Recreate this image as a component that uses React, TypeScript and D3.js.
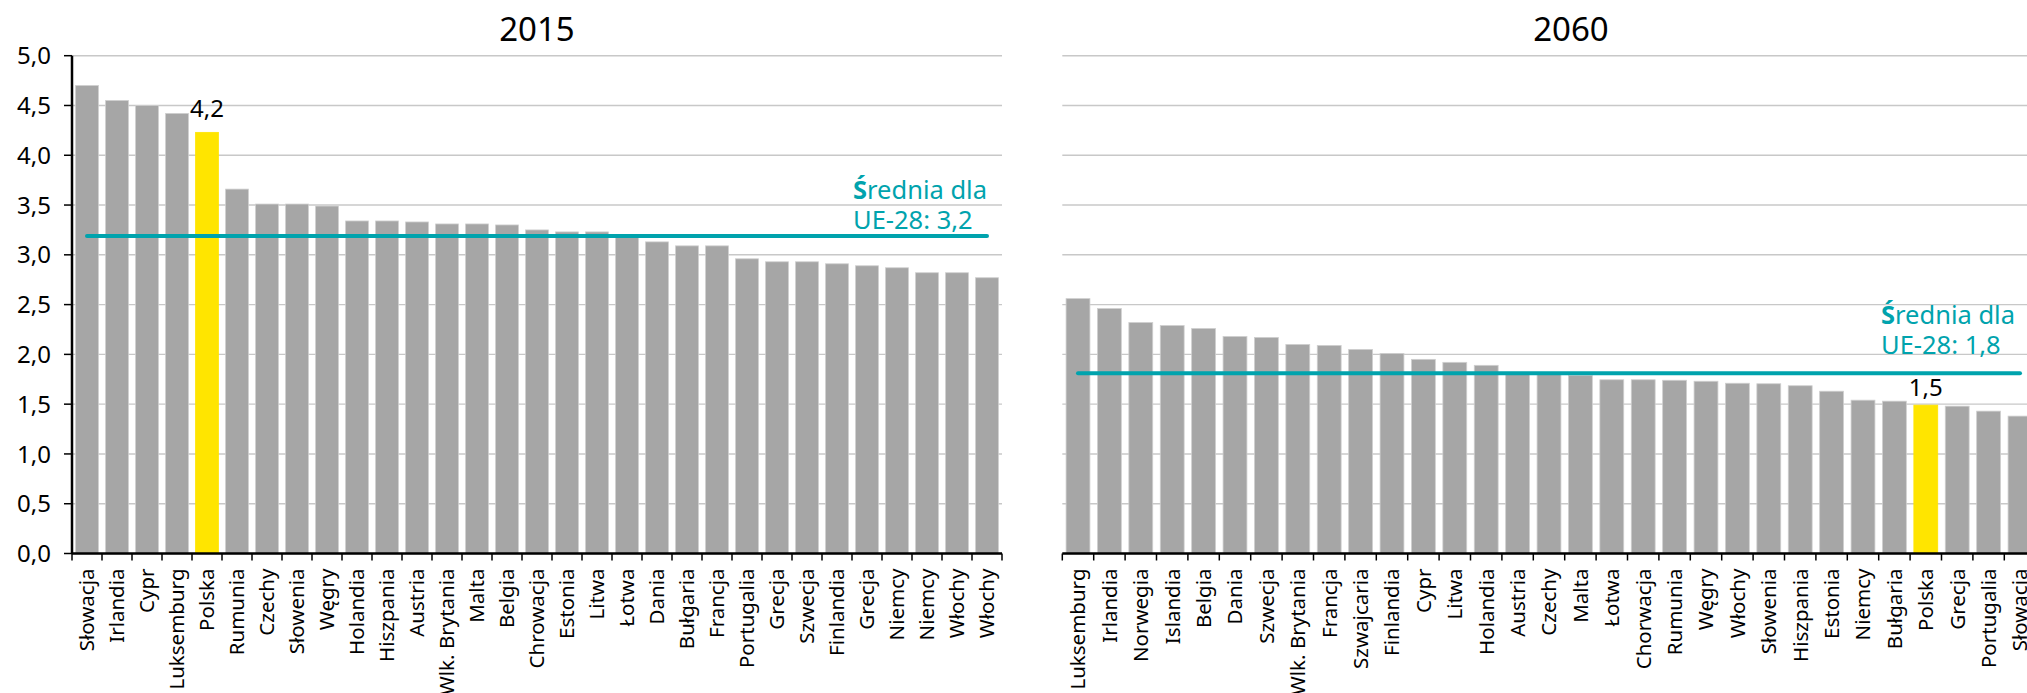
import React from "react";
import * as d3 from "d3";

// ---------- DATA ----------
const cats2015 = [
  "Słowacja", "Irlandia", "Cypr", "Luksemburg", "Polska", "Rumunia", "Czechy",
  "Słowenia", "Węgry", "Holandia", "Hiszpania", "Austria", "Wlk. Brytania", "Malta",
  "Belgia", "Chrowacja", "Estonia", "Litwa", "Łotwa", "Dania", "Bułgaria", "Francja",
  "Portugalia", "Grecja", "Szwecja", "Finlandia", "Grecja", "Niemcy", "Niemcy",
  "Włochy", "Włochy",
];
const vals2015 = [
  4.70, 4.55, 4.50, 4.42, 4.23, 3.66, 3.51, 3.51, 3.49, 3.34, 3.34, 3.33, 3.31, 3.31,
  3.30, 3.25, 3.23, 3.23, 3.19, 3.13, 3.09, 3.09, 2.96, 2.93, 2.93, 2.91, 2.89, 2.87,
  2.82, 2.82, 2.77,
];
const cats2060 = [
  "Luksemburg", "Irlandia", "Norwegia", "Islandia", "Belgia", "Dania", "Szwecja",
  "Wlk. Brytania", "Francja", "Szwajcaria", "Finlandia", "Cypr", "Litwa", "Holandia",
  "Austria", "Czechy", "Malta", "Łotwa", "Chorwacja", "Rumunia", "Węgry", "Włochy",
  "Słowenia", "Hiszpania", "Estonia", "Niemcy", "Bułgaria", "Polska", "Grecja",
  "Portugalia", "Słowacja",
];
const vals2060 = [
  2.56, 2.46, 2.32, 2.29, 2.26, 2.18, 2.17, 2.10, 2.09, 2.05, 2.01, 1.95, 1.92, 1.89,
  1.82, 1.80, 1.79, 1.745, 1.745, 1.74, 1.73, 1.71, 1.705, 1.685, 1.63, 1.54, 1.53,
  1.49, 1.48, 1.43, 1.38,
];
const avg2015 = 3.19;
const avg2060 = 1.81;
const avgLabel2015 = ["Średnia dla", "UE-28: 3,2"];
const avgLabel2060 = ["Średnia dla", "UE-28: 1,8"];
const titles = ["2015", "2060"];
const yTicks = [0, 0.5, 1.0, 1.5, 2.0, 2.5, 3.0, 3.5, 4.0, 4.5, 5.0];
const highlight = "Polska";

// ---------- STYLE ----------
const W = 2027;
const H = 693;
const FONT = "'Noto Sans', sans-serif";
const GRAY = "#a6a6a6";
const YELLOW = "#ffe500";
const TEAL = "#00a3ad";
const GRID = "#c8c8c8";

const y = d3.scaleLinear().domain([0, 5]).range([553.5, 55.7]);
const fmt = (v: number) => d3.format(".1f")(v).replace(".", ",");

type PanelProps = {
  cats: string[];
  vals: number[];
  x0: number;
  x1: number;
  title: string;
  titleX: number;
  avg: number;
  avgLabel: string[];
  labelX: number;
  labelGap: number;
  valueGap: number;
  showYAxis: boolean;
};

function Panel(p: PanelProps) {
  const n = p.cats.length;
  const x = d3
    .scaleBand<number>()
    .domain(d3.range(n))
    .range([p.x0, p.x1])
    .paddingInner(0.24)
    .paddingOuter(0.12);
  const step = x.step();
  const bw = x.bandwidth();
  const y0 = y(0);
  const boundaries = d3.range(n + 1).map((i) => p.x0 + i * step);
  const hi = p.cats.indexOf(highlight);
  const avgY = y(p.avg);

  return (
    <g>
      {/* title */}
      <text x={p.titleX} y={40.5} textAnchor="middle" fontSize={33} fill="#000" fontFamily={FONT}>
        {p.title}
      </text>
      {/* grid */}
      {yTicks.map((t) => (
        <line key={"g" + t} x1={p.x0} x2={p.x1} y1={y(t)} y2={y(t)} stroke={GRID} strokeWidth={1.4} />
      ))}
      {/* bars */}
      {p.vals.map((v, i) => (
        <rect
          key={"b" + i}
          x={x(i)}
          y={y(v)}
          width={bw}
          height={y0 - y(v)}
          fill={p.cats[i] === highlight ? YELLOW : GRAY}
          stroke={p.cats[i] === highlight ? YELLOW : "#cfcfcf"}
          strokeWidth={0.8}
        />
      ))}
      {/* average line */}
      <line
        x1={(x(0) as number) + bw / 2}
        x2={(x(n - 1) as number) + bw / 2}
        y1={avgY}
        y2={avgY}
        stroke={TEAL}
        strokeWidth={4}
        strokeLinecap="round"
      />
      {/* average label */}
      <text x={p.labelX} fontSize={25.5} fill={TEAL} fontFamily={FONT}>
        <tspan x={p.labelX} y={avgY - p.labelGap - 30}>
          <tspan fontWeight={700}>{p.avgLabel[0].charAt(0)}</tspan>
          {p.avgLabel[0].slice(1)}
        </tspan>
        <tspan x={p.labelX} y={avgY - p.labelGap}>
          {p.avgLabel[1]}
        </tspan>
      </text>
      {/* value label for highlight */}
      {hi >= 0 && (
        <text
          x={(x(hi) as number) + bw / 2}
          y={y(p.vals[hi]) - p.valueGap}
          textAnchor="middle"
          fontSize={24}
          fill="#000"
          fontFamily={FONT}
        >
          {fmt(p.vals[hi])}
        </text>
      )}
      {/* x axis */}
      <line x1={p.x0} x2={p.x1} y1={y0} y2={y0} stroke="#000" strokeWidth={2.5} />
      {boundaries.map((bx, i) => (
        <line key={"t" + i} x1={bx} x2={bx} y1={y0} y2={y0 + 7} stroke="#000" strokeWidth={1.5} />
      ))}
      {p.cats.map((c, i) => (
        <text
          key={"l" + i}
          transform={`translate(${(x(i) as number) + bw / 2},${y0 + 15}) rotate(-90)`}
          textAnchor="end"
          dy="0.36em"
          fontSize={20.5}
          fill="#000"
          fontFamily={FONT}
        >
          {c}
        </text>
      ))}
      {/* y axis */}
      {p.showYAxis && (
        <g>
          <line x1={p.x0} x2={p.x0} y1={y(5)} y2={y0} stroke="#000" strokeWidth={2.5} />
          {yTicks.map((t) => (
            <g key={"y" + t}>
              <line x1={p.x0 - 8} x2={p.x0} y1={y(t)} y2={y(t)} stroke="#000" strokeWidth={1.5} />
              <text
                x={p.x0 - 21}
                y={y(t)}
                dy="0.36em"
                textAnchor="end"
                fontSize={24}
                fill="#000"
                fontFamily={FONT}
              >
                {fmt(t)}
              </text>
            </g>
          ))}
        </g>
      )}
    </g>
  );
}

export default function App() {
  return (
    <div
      style={{
        position: "absolute",
        left: 0,
        top: 0,
        width: W,
        height: H,
        overflow: "hidden",
        background: "#fff",
      }}
    >
      <svg width={W} height={H} style={{ display: "block" }}>
        <rect width={W} height={H} fill="#fff" />
        <Panel
          cats={cats2015}
          vals={vals2015}
          x0={72}
          x1={1002}
          title={titles[0]}
          titleX={537}
          avg={avg2015}
          avgLabel={avgLabel2015}
          labelX={853}
          labelGap={7}
          valueGap={15}
          showYAxis={true}
        />
        <Panel
          cats={cats2060}
          vals={vals2060}
          x0={1062.3}
          x1={1062.3 + 31 * 31.4}
          title={titles[1]}
          titleX={1571}
          avg={avg2060}
          avgLabel={avgLabel2060}
          labelX={1881}
          labelGap={19}
          valueGap={9}
          showYAxis={false}
        />
      </svg>
    </div>
  );
}
